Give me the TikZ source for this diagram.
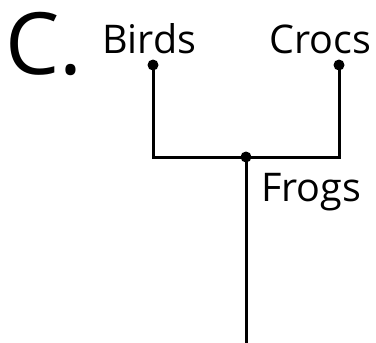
\documentclass[tikz,border=0pt]{standalone}
\usepackage{fontspec}
\setmainfont{Open Sans}
\begin{document}
\begin{tikzpicture}[x=1pt,y=-1pt,
  lbl/.style={font=\fontsize{39.5}{42}\selectfont, inner sep=0pt, anchor=base west},
  big/.style={font=\fontsize{86}{88}\selectfont, inner sep=0pt, anchor=base west},
  branch/.style={line width=3pt},
  dotn/.style={circle, fill=black, inner sep=0pt, minimum size=11pt}]
\useasboundingbox (0,0) rectangle (376,343);
\node[big] (C) at (5,74) {C.};
\node[lbl] (birds) at (102,53) {Birds};
\node[lbl] (crocs) at (269,53) {Crocs};
\node[lbl] (frogs) at (261,201) {Frogs};
\node[dotn] (b) at (153,65) {};
\node[dotn] (c) at (339,65) {};
\node[dotn] (m) at (246,157) {};
\coordinate (bl) at (153,157);
\coordinate (cr) at (339,157);
\coordinate (root) at (246,345);
\draw[branch] (b.center) -- (bl) -- (cr) -- (c.center);
\draw[branch] (m.center) -- (root);
\end{tikzpicture}
\end{document}
